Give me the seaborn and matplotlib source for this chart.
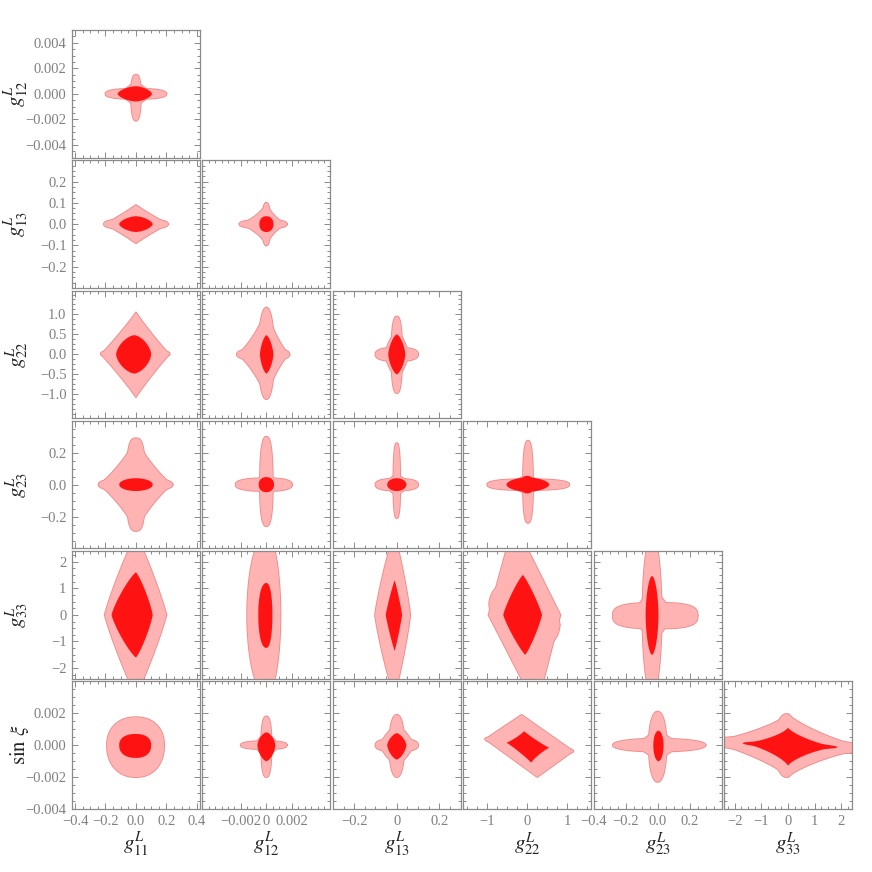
import numpy as np
import matplotlib
matplotlib.use("Agg")
import matplotlib.pyplot as plt
import seaborn as sns
from matplotlib.ticker import FixedLocator, AutoMinorLocator

sns.set_style("ticks")
plt.rcParams['font.family'] = ['Liberation Serif', 'DejaVu Serif']
plt.rcParams['mathtext.fontset'] = 'stix'

# ---------------- variables, ranges, ticks ----------------
col_vars = ["g11", "g12", "g13", "g22", "g23", "g33"]
row_vars = ["g12", "g13", "g22", "g23", "g33", "sxi"]
labels = {"g11": r"$g^L_{11}$", "g12": r"$g^L_{12}$", "g13": r"$g^L_{13}$",
          "g22": r"$g^L_{22}$", "g23": r"$g^L_{23}$", "g33": r"$g^L_{33}$",
          "sxi": r"$\sin\,\xi$"}
ranges = {"g11": (-0.42, 0.42), "g12": (-0.005, 0.005), "g13": (-0.3, 0.3),
          "g22": (-1.6, 1.6), "g23": (-0.4, 0.4), "g33": (-2.4, 2.4),
          "sxi": (-0.004, 0.004)}
xticks = {"g11": [-0.4, -0.2, 0.0, 0.2, 0.4], "g12": [-0.002, 0.0, 0.002],
          "g13": [-0.2, 0.0, 0.2], "g22": [-1, 0, 1],
          "g23": [-0.4, -0.2, 0.0, 0.2], "g33": [-2, -1, 0, 1, 2]}
xticklabels = {"g11": ["\u22120.4", "\u22120.2", "0.0", "0.2", "0.4"],
               "g12": ["\u22120.002", "0", "0.002"],
               "g13": ["\u22120.2", "0", "0.2"],
               "g22": ["\u22121", "0", "1"],
               "g23": ["\u22120.4", "\u22120.2", "0.0", "0.2"],
               "g33": ["\u22122", "\u22121", "0", "1", "2"]}
yticks = {"g12": [-0.004, -0.002, 0.0, 0.002, 0.004],
          "g13": [-0.2, -0.1, 0.0, 0.1, 0.2],
          "g22": [-1.0, -0.5, 0.0, 0.5, 1.0],
          "g23": [-0.2, 0.0, 0.2],
          "g33": [-2, -1, 0, 1, 2],
          "sxi": [-0.004, -0.002, 0.0, 0.002]}
yticklabels = {"g12": ["\u22120.004", "\u22120.002", "0.000", "0.002", "0.004"],
               "g13": ["\u22120.2", "\u22120.1", "0.0", "0.1", "0.2"],
               "g22": ["\u22121.0", "\u22120.5", "0.0", "0.5", "1.0"],
               "g23": ["\u22120.2", "0.0", "0.2"],
               "g33": ["\u22122", "\u22121", "0", "1", "2"],
               "sxi": ["\u22120.004", "\u22120.002", "0.000", "0.002"]}

# ---------------- contour regions ----------------
# each piece: (cx, cy, x_left, x_right, y_down, y_up, shape_exponent, shear_x, shear_y)
g12_g11_outer = [(0, 0, 0.2, 0.2, 0.0004, 0.0004, 2.5, 0, 0),
                 (0, 0, 0.032, 0.032, 0.0021, 0.0015, 2.5, 0, 0),
                 (0, 0, 0.11, 0.11, 0.001, 0.001, 1.0, 0, 0)]
g12_g11_inner = [(0, 0, 0.12, 0.105, 0.0006, 0.0006, 1.6, 0, 0)]

g13_g11_outer = [(0, 0, 0.205, 0.21, 0.09, 0.09, 0.95, 0, 0),
                 (0, 0, 0.21, 0.21, 0.025, 0.025, 2.5, 0, 0)]
g13_g11_inner = [(0, 0, 0.11, 0.11, 0.037, 0.037, 1.6, 0, 0)]

g22_g11_outer = [(0, 0, 0.23, 0.22, 1.07, 1.05, 0.95, 0, 0),
                 (0, 0.02, 0.23, 0.22, 0.1, 0.1, 2.5, 0, 0)]
g22_g11_inner = [(-0.01, 0, 0.12, 0.11, 0.48, 0.48, 1.6, 0, 0)]

g23_g11_outer = [(0, 0, 0.245, 0.24, 0.29, 0.29, 0.85, 0, 0),
                 (0, 0, 0.06, 0.06, 0.29, 0.29, 3.0, 0, 0),
                 (0, 0, 0.245, 0.24, 0.04, 0.04, 2.5, 0, 0)]
g23_g11_inner = [(0, 0, 0.11, 0.11, 0.04, 0.04, 2.0, 0, 0)]

g33_g11_outer = [(0, 0, 0.205, 0.2, 3.0, 3.0, 1.1, 0, 0)]
g33_g11_inner = [(0, 0, 0.16, 0.11, 1.6, 1.6, 1.2, 0, 0)]

sxi_g11_outer = [(0, 0, 0.19, 0.185, 0.002, 0.00175, 2.2, 0, 0)]
sxi_g11_inner = [(0, 0, 0.11, 0.1, 0.0008, 0.0007, 2.3, 0, 0)]

g13_g12_outer = [(0, 0, 0.0021, 0.0016, 0.1, 0.1, 0.75, 0, 0),
                 (0, 0, 0.0009, 0.0009, 0.045, 0.045, 1.5, 0, 0),
                 (0, 0, 0.0021, 0.0016, 0.02, 0.02, 2.5, 0, 0),
                 (0, 0, 0.0003, 0.0003, 0.1, 0.1, 2.5, 0, 0)]
g13_g12_inner = [(0, 0, 0.00055, 0.00055, 0.037, 0.037, 2.2, 0, 0)]

g22_g12_outer = [(0, 0, 0.0023, 0.0018, 1.12, 1.17, 0.8, 0, 0),
                 (0, 0, 0.0006, 0.0006, 1.12, 1.17, 2.2, 0, 0),
                 (0, 0, 0.0023, 0.0018, 0.15, 0.15, 2.5, 0, 0)]
g22_g12_inner = [(0, 0, 0.0005, 0.00055, 0.48, 0.48, 1.5, 0, 0)]

g23_g12_outer = [(0, 0, 0.0024, 0.002, 0.04, 0.04, 2.5, 0, 0),
                 (0, 0, 0.0005, 0.0005, 0.26, 0.3, 2.5, 0, 0),
                 (0, 0, 0.0009, 0.0009, 0.08, 0.08, 1.2, 0, 0)]
g23_g12_inner = [(0, 0, 0.0006, 0.0006, 0.047, 0.047, 2.2, 0, 0)]

g33_g12_outer = [(0, 0, 0.0015, 0.0011, 3.0, 3.0, 2.0, 0, 0)]
g33_g12_inner = [(0, 0, 0.00063, 0.00047, 1.24, 1.2, 2.2, 0, 0)]

sxi_g12_outer = [(0, 0, 0.002, 0.0016, 0.00025, 0.00025, 2.5, 0, 0),
                 (0, 0, 0.0004, 0.0004, 0.002, 0.0018, 2.5, 0, 0),
                 (0, 0, 0.0009, 0.0009, 0.0008, 0.0008, 1.2, 0, 0)]
sxi_g12_inner = [(0, 0, 0.0007, 0.0007, 0.001, 0.0008, 1.6, 0, 0)]

g22_g13_outer = [(0, 0, 0.1, 0.1, 0.17, 0.17, 2.5, 0, 0),
                 (0, 0, 0.025, 0.025, 0.97, 0.95, 2.5, 0, 0),
                 (0, 0, 0.055, 0.055, 0.6, 0.6, 1.3, 0, 0)]
g22_g13_inner = [(0, 0, 0.04, 0.04, 0.5, 0.5, 1.5, 0, 0)]

g23_g13_outer = [(0, 0, 0.1, 0.1, 0.037, 0.037, 2.5, 0, 0),
                 (0, 0, 0.016, 0.016, 0.21, 0.26, 2.5, 0, 0),
                 (0, 0, 0.05, 0.05, 0.06, 0.06, 1.5, 0, 0)]
g23_g13_inner = [(0, 0, 0.045, 0.045, 0.04, 0.04, 2.0, 0, 0)]

g33_g13_outer = [(-0.012, 0, 0.09, 0.075, 3.0, 3.0, 1.15, 0, 0)]
g33_g13_inner = [(-0.01, 0, 0.042, 0.035, 1.35, 1.3, 1.1, 0, 0)]

sxi_g13_outer = [(0, 0, 0.035, 0.035, 0.002, 0.0019, 2.2, 0, 0),
                 (0, 0, 0.1, 0.1, 0.0004, 0.0004, 2.5, 0, 0),
                 (0, 0, 0.075, 0.075, 0.0012, 0.0012, 1.4, 0, 0)]
sxi_g13_inner = [(0, 0, 0.045, 0.045, 0.0009, 0.00075, 1.5, 0, 0)]

g23_g22_outer = [(0, 0, 1.0, 1.05, 0.034, 0.034, 2.5, 0, 0),
                 (0.02, 0, 0.125, 0.125, 0.24, 0.275, 2.5, 0, 0),
                 (0, 0, 0.4, 0.4, 0.06, 0.06, 1.2, 0, 0)]
g23_g22_inner = [(0, 0, 0.52, 0.55, 0.045, 0.045, 1.8, 0, 0),
                 (0, 0, 0.2, 0.2, 0.055, 0.055, 2.0, 0, 0)]

g33_g22_outer = [(-0.05, 0, 0.92, 0.88, 3.5, 3.5, 1.0, -0.08, 0),
                 (-0.05, 0, 0.9, 0.86, 1.3, 1.3, 1.8, 0, -0.45)]
g33_g22_inner = [(-0.08, 0, 0.52, 0.45, 1.5, 1.5, 1.15, -0.02, 0)]

sxi_g22_outer = [(0.05, 0, 1.1, 1.1, 0.002, 0.0019, 1.0, -100, -0.00034),
                 (0.05, 0, 1.1, 1.1, 0.00025, 0.00025, 2.5, -100, -0.00034)]
sxi_g22_inner = [(0.0, 0, 0.52, 0.55, 0.0011, 0.00088, 0.9, -90, -0.0003)]

g33_g23_outer = [(-0.035, 0, 0.06, 0.06, 3.0, 3.0, 2.0, 0, 0),
                 (0, -0.03, 0.28, 0.25, 0.48, 0.48, 3.0, 0, 0),
                 (-0.03, 0, 0.12, 0.12, 1.0, 1.0, 1.2, 0, 0)]
g33_g23_inner = [(-0.035, 0, 0.04, 0.04, 1.5, 1.46, 1.8, 0, 0)]

sxi_g23_outer = [(0, 0, 0.28, 0.3, 0.0004, 0.0004, 2.2, 0, 0),
                 (0, 0, 0.055, 0.055, 0.0023, 0.0021, 2.2, 0, 0),
                 (0, 0, 0.14, 0.14, 0.001, 0.001, 1.0, 0, 0)]
sxi_g23_inner = [(0.005, 0, 0.032, 0.032, 0.001, 0.0009, 2.0, 0, 0)]

sxi_g33_outer = [(0, 0, 3.0, 3.0, 0.002, 0.00195, 0.8, 0, -0.00007),
                 (0, 0, 3.0, 3.0, 0.0005, 0.0005, 2.0, 0, -0.00007),
                 (-0.07, 0, 0.45, 0.45, 0.002, 0.00195, 2.0, 0, 0)]
sxi_g33_inner = [(0, 0, 1.7, 1.85, 0.0013, 0.0011, 0.75, 0, -0.00007),
                 (0, 0, 1.7, 1.85, 0.0002, 0.0002, 2.0, 0, -0.00007)]

regions = {
    ("g12", "g11"): (g12_g11_outer, g12_g11_inner),
    ("g13", "g11"): (g13_g11_outer, g13_g11_inner),
    ("g22", "g11"): (g22_g11_outer, g22_g11_inner),
    ("g23", "g11"): (g23_g11_outer, g23_g11_inner),
    ("g33", "g11"): (g33_g11_outer, g33_g11_inner),
    ("sxi", "g11"): (sxi_g11_outer, sxi_g11_inner),
    ("g13", "g12"): (g13_g12_outer, g13_g12_inner),
    ("g22", "g12"): (g22_g12_outer, g22_g12_inner),
    ("g23", "g12"): (g23_g12_outer, g23_g12_inner),
    ("g33", "g12"): (g33_g12_outer, g33_g12_inner),
    ("sxi", "g12"): (sxi_g12_outer, sxi_g12_inner),
    ("g22", "g13"): (g22_g13_outer, g22_g13_inner),
    ("g23", "g13"): (g23_g13_outer, g23_g13_inner),
    ("g33", "g13"): (g33_g13_outer, g33_g13_inner),
    ("sxi", "g13"): (sxi_g13_outer, sxi_g13_inner),
    ("g23", "g22"): (g23_g22_outer, g23_g22_inner),
    ("g33", "g22"): (g33_g22_outer, g33_g22_inner),
    ("sxi", "g22"): (sxi_g22_outer, sxi_g22_inner),
    ("g33", "g23"): (g33_g23_outer, g33_g23_inner),
    ("sxi", "g23"): (sxi_g23_outer, sxi_g23_inner),
    ("sxi", "g33"): (sxi_g33_outer, sxi_g33_inner),
}

OUTER_FILL = "#FFB3B3"
OUTER_EDGE = "#F08A8A"
INNER_FILL = "#FF1212"


def piece(cx, cy, xl, xr, yd, yu, p, kx, ky, n=500):
    t = np.linspace(0, 2 * np.pi, n)
    c, s = np.cos(t), np.sin(t)
    e = 2.0 / p
    x = np.where(c >= 0, xr, xl) * np.sign(c) * np.abs(c) ** e
    y = np.where(s >= 0, yu, yd) * np.sign(s) * np.abs(s) ** e
    return cx + x + kx * y, cy + y + ky * x


fig, axes = plt.subplots(6, 6, figsize=(8.72, 8.72), dpi=100,
                         gridspec_kw=dict(left=72 / 872, right=852 / 872,
                                          top=1 - 30 / 872, bottom=1 - 809 / 872,
                                          wspace=0.02, hspace=0.02))

for i, rv in enumerate(row_vars):
    for j, cv in enumerate(col_vars):
        ax = axes[i, j]
        if j > i:
            ax.axis("off")
            continue
        outer, inner = regions[(rv, cv)]
        for pc in outer:
            X, Y = piece(*pc)
            ax.plot(X, Y, color=OUTER_EDGE, lw=1.3, zorder=1)
        for pc in outer:
            X, Y = piece(*pc)
            ax.fill(X, Y, color=OUTER_FILL, lw=0, zorder=2)
        for pc in inner:
            X, Y = piece(*pc)
            ax.fill(X, Y, color=INNER_FILL, lw=0, zorder=3)
        ax.set_xlim(*ranges[cv])
        ax.set_ylim(*ranges[rv])
        ax.xaxis.set_major_locator(FixedLocator(xticks[cv]))
        ax.yaxis.set_major_locator(FixedLocator(yticks[rv]))
        ax.xaxis.set_minor_locator(AutoMinorLocator(4))
        ax.yaxis.set_minor_locator(AutoMinorLocator(4))
        ax.tick_params(which="both", direction="in", top=True, right=True,
                       color="#777777", width=0.6)
        ax.tick_params(which="major", length=4)
        ax.tick_params(which="minor", length=2)
        ax.tick_params(labelsize=10.5, labelcolor="#808080", pad=4)
        for sp in ax.spines.values():
            sp.set_color("#8a8a8a")
            sp.set_linewidth(0.9)
        if j == 0:
            ax.set_yticklabels(yticklabels[rv])
            ax.set_ylabel(labels[rv], fontsize=15, color="#222222")
            ax.yaxis.set_label_coords(-0.32, 0.5)
        else:
            ax.tick_params(labelleft=False)
        if i == 5:
            ax.set_xticklabels(xticklabels[cv])
            ax.set_xlabel(labels[cv], fontsize=15, color="#222222")
            ax.xaxis.set_label_coords(0.5, -0.17)
        else:
            ax.tick_params(labelbottom=False)

fig.savefig("out.png", dpi=100, facecolor="white")
